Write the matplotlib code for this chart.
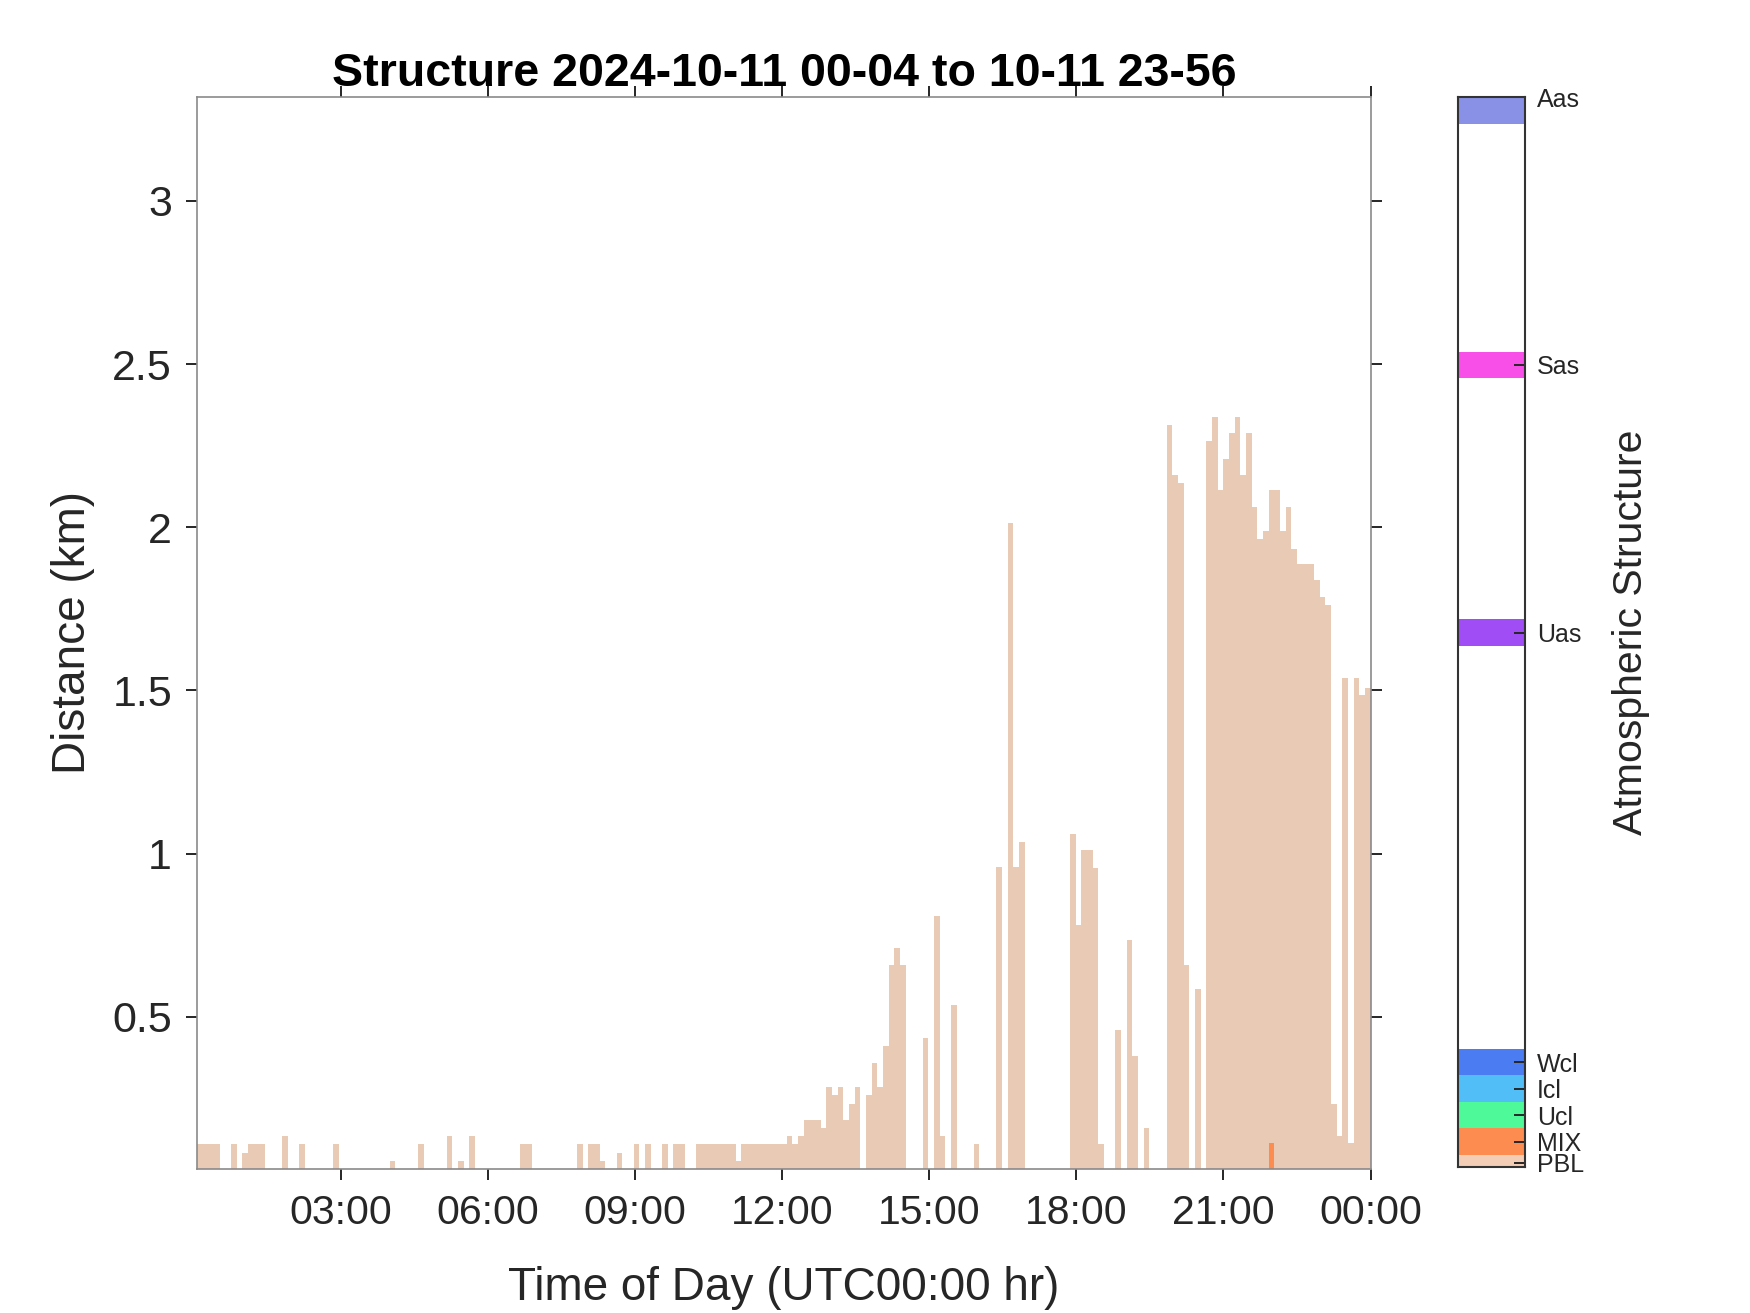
import matplotlib.pyplot as plt
import numpy as np

plt.rcParams['font.family'] = ['Liberation Sans', 'DejaVu Sans']

# PBL top (km) for each profile, 0 = nothing detected in that bin
pbl_top = [
    0.11, 0.11, 0.11, 0.11, 0, 0, 0.11, 0, 0.084, 0.11,
    0.11, 0.11, 0, 0, 0, 0.135, 0, 0, 0.11, 0,
    0, 0, 0, 0, 0.11, 0, 0, 0, 0, 0,
    0, 0, 0, 0, 0.059, 0, 0, 0, 0, 0.11,
    0, 0, 0, 0, 0.135, 0, 0.059, 0, 0.135, 0,
    0, 0, 0, 0, 0, 0, 0, 0.11, 0.11, 0,
    0, 0, 0, 0, 0, 0, 0, 0.11, 0, 0.11,
    0.11, 0.058, 0, 0, 0.082, 0, 0, 0.11, 0, 0.11,
    0, 0, 0.11, 0, 0.11, 0.11, 0, 0, 0.11, 0.11,
    0.11, 0.11, 0.11, 0.11, 0.11, 0.058, 0.11, 0.11, 0.11, 0.11,
    0.11, 0.11, 0.11, 0.11, 0.135, 0.11, 0.135, 0.184, 0.184, 0.184,
    0.159, 0.284, 0.26, 0.284, 0.184, 0.233, 0.284, 0, 0.26, 0.358,
    0.285, 0.41, 0.659, 0.711, 0.659, 0, 0, 0, 0.435, 0,
    0.809, 0.135, 0, 0.536, 0, 0, 0, 0.111, 0, 0,
    0, 0.96, 0, 2.013, 0.96, 1.037, 0, 0, 0, 0,
    0, 0, 0, 0, 1.061, 0.782, 1.012, 1.012, 0.957, 0.109,
    0, 0, 0.46, 0, 0.735, 0.381, 0, 0.16, 0, 0,
    0, 2.312, 2.16, 2.137, 0.658, 0, 0.585, 0, 2.263, 2.337,
    2.113, 2.209, 2.288, 2.337, 2.16, 2.288, 2.062, 1.965, 1.989, 2.113,
    2.113, 1.989, 2.062, 1.935, 1.886, 1.886, 1.886, 1.837, 1.785, 1.761,
    0.234, 0.136, 1.539, 0.112, 1.539, 1.487, 1.508,
]
# mixing layer bins (index into pbl_top) and their tops (km)
mix_bin = [189]
mix_top = [0.112]

start_hr = 4 / 60.0   # 00:04
end_hr = 24.0

structure_names = ['PBL', 'MIX', 'Ucl', 'Icl', 'Wcl', 'Uas', 'Sas', 'Aas']
structure_colors = ['#F4CDB6', '#FC8C4F', '#4EF99A', '#52BEF8', '#4C7CF2',
                    '#A04DF6', '#F84FE8', '#8891E6']
structure_band = [0, 1, 2, 3, 4, 20.2, 30.3, 39.9]
structure_ticks = [0.2, 1, 2, 3, 4, 20.2, 30.3, 40.4]

x_ticks = [3, 6, 9, 12, 15, 18, 21, 24]
x_labels = ['03:00', '06:00', '09:00', '12:00', '15:00', '18:00', '21:00', '00:00']
y_ticks = [0.5, 1, 1.5, 2, 2.5, 3]
y_labels = ['0.5', '1', '1.5', '2', '2.5', '3']

PBL_BAR = '#E9CAB4'
TXT = '#262626'

fig = plt.figure(figsize=(17.5, 13.13), dpi=100)
ax = fig.add_axes([0.1126, 0.11, 0.6706, 0.816])
cax = fig.add_axes([0.8329, 0.1109, 0.0383, 0.8151])

edges = np.linspace(start_hr, end_hr, len(pbl_top) + 1)
dt = edges[1] - edges[0]
ax.stairs(pbl_top, edges, fill=True, color=PBL_BAR, baseline=0, linewidth=0)
ax.bar(edges[mix_bin], mix_top, width=dt, align='edge',
       color=structure_colors[1], linewidth=0)

ax.set_xlim(start_hr, end_hr)
ax.set_ylim(0.035, 3.318)
ax.set_xticks(x_ticks)
ax.set_xticklabels(x_labels)
ax.set_yticks(y_ticks)
ax.set_yticklabels(y_labels)
ax.tick_params(axis='both', direction='out', length=8, width=1.4, color=TXT,
               labelcolor=TXT, top=True, right=True, pad=10)
ax.tick_params(axis='x', labelsize=29.5)
ax.tick_params(axis='y', labelsize=31)
for s in ax.spines.values():
    s.set_color('#8a8a8a')
    s.set_linewidth(1.2)

ax.set_xlabel('Time of Day (UTC00:00 hr)', fontsize=33, color=TXT)
ax.set_ylabel('Distance (km)', fontsize=33, color=TXT)
ax.xaxis.set_label_coords(0.5, -0.091)
ax.yaxis.set_label_coords(-0.087, 0.5)

fig.text(0.4479, 0.9345, 'Structure 2024-10-11 00-04 to 10-11 23-56',
         ha='center', va='baseline', fontsize=33.5, fontweight='bold',
         color='black')

# colour key for the structure classes
cmin, cmax = 0.03, 40.4
for name, col, c in zip(structure_names, structure_colors, structure_band):
    cax.axhspan(max(c - 0.5, cmin), min(c + 0.5, cmax), color=col, linewidth=0)
cax.set_ylim(cmin, cmax)
cax.set_xlim(0, 1)
cax.set_xticks([])
cax.set_yticks(structure_ticks)
cax.set_yticklabels(structure_names)
cax.tick_params(axis='y', direction='in', length=8, width=1.4, color=TXT,
                labelcolor=TXT, labelsize=18, left=False, right=True,
                labelleft=False, labelright=True, pad=9)
for s in cax.spines.values():
    s.set_color('#333333')
    s.set_linewidth(1.5)
cax.yaxis.set_label_position('right')
cax.set_ylabel('Atmospheric Structure', fontsize=29.5, color=TXT, rotation=90)
cax.yaxis.set_label_coords(2.30, 0.5)

fig.savefig('out.png', dpi=100)
